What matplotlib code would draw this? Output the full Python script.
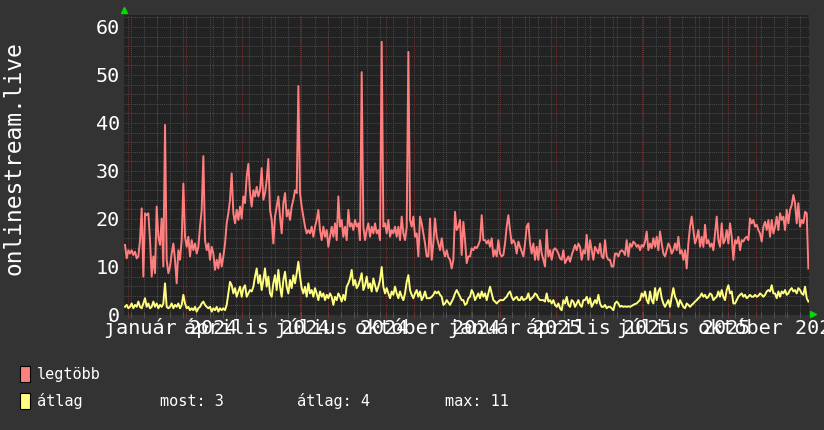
import matplotlib
matplotlib.use('Agg')
import matplotlib.pyplot as plt
import numpy as np
import pandas as pd
from matplotlib.patches import Rectangle, Polygon
from matplotlib.transforms import blended_transform_factory

# ---------------- data ----------------
START = "2023-11-27 21:00"
END = "2025-11-25 10:00"
XMIN = "2023-11-26 19:00"
XMAX = "2025-11-26 02:00"
YMAX = 62.5

legtobb = [
    14.6, 11.8, 13.5, 12.8, 13.5, 12.5, 13.2, 11.8, 12.2, 15.6,
    22.2, 8.0, 21.2, 20.8, 21.2, 15.6, 8.0, 12.2, 8.7, 22.6,
    16.3, 14.6, 20.1, 10.1, 39.6, 11.5, 8.7, 10.1, 12.8, 14.9,
    11.5, 6.6, 13.5, 11.5, 15.6, 27.4, 16.3, 14.2, 16.3, 12.2,
    15.6, 13.5, 14.9, 12.8, 14.2, 18.4, 21.9, 33.1, 15.6, 13.5,
    14.9, 11.5, 14.2, 12.8, 9.4, 11.5, 9.7, 12.8, 10.1, 12.2,
    14.9, 19.1, 21.2, 24.0, 29.5, 21.2, 19.1, 21.9, 19.8, 22.6,
    20.1, 24.7, 23.3, 28.8, 31.5, 25.4, 22.6, 26.0, 24.7, 26.7,
    24.7, 26.0, 30.6, 24.0, 25.4, 28.1, 32.5, 21.9, 19.8, 14.9,
    20.5, 22.6, 24.7, 20.5, 17.0, 23.3, 25.4, 20.5, 21.9, 19.8,
    22.6, 24.0, 26.0, 25.4, 47.7, 25.4, 22.6, 20.5, 18.4, 17.0,
    17.7, 17.0, 18.4, 16.3, 18.4, 19.8, 21.9, 17.7, 15.6, 18.4,
    16.3, 17.7, 14.2, 16.3, 18.4, 16.3, 19.1, 15.6, 24.7, 18.4,
    19.8, 16.3, 18.4, 15.6, 21.9, 18.4, 19.1, 17.7, 19.8, 18.4,
    19.1, 15.6, 50.6, 18.4, 15.6, 17.7, 19.1, 16.3, 18.4, 17.0,
    19.1, 17.0, 17.7, 15.6, 56.9, 18.4, 19.1, 17.0, 19.8, 16.3,
    17.7, 17.0, 18.4, 16.3, 18.4, 15.6, 20.5, 17.0, 15.6, 18.4,
    54.8, 19.8, 18.4, 20.5, 16.3, 17.0, 12.2, 20.5, 19.1, 17.0,
    14.9, 12.2,
    12.2, 20.1, 11.5, 15.0, 20.1, 16.3, 14.9, 13.5, 16.0, 13.5,
    12.2, 13.5, 12.0, 11.5, 9.7, 11.5, 21.5, 17.7, 18.4, 19.8,
    12.5, 19.4, 15.6, 10.8, 12.2, 12.2, 13.9, 13.5, 14.2, 13.9,
    14.6, 15.6, 20.8, 15.6, 15.6, 14.9, 15.6, 14.2, 16.0, 12.2,
    13.5, 12.2, 15.6, 12.8, 12.2, 12.5, 14.9, 18.4, 20.8, 17.7,
    14.9, 15.6, 14.9, 12.8, 15.3, 14.2, 13.2, 12.2, 14.9, 18.4,
    19.1, 14.9, 12.8, 14.9, 11.5, 14.2, 11.5, 15.6, 12.8, 11.5,
    10.1, 17.7, 12.2, 13.5, 11.5, 13.5, 13.9, 13.5, 12.8, 11.8,
    11.5, 13.5, 10.8, 11.5, 12.2, 11.1, 12.5, 13.5, 14.6, 13.5,
    14.9, 14.2, 11.5, 13.5, 12.8, 16.7, 11.5, 15.6, 13.5, 11.5,
    14.2, 13.5, 12.8, 14.9, 12.2, 11.8, 15.6, 12.2, 11.5, 11.5,
    10.1, 10.1, 12.8, 12.8, 12.2, 13.2, 13.5, 13.2, 12.5, 15.6,
    12.2, 14.9, 14.2, 15.3, 14.9, 14.2, 14.6, 13.5, 14.6, 14.2,
    15.3, 17.4, 13.5, 14.9, 13.9, 16.0, 14.2, 16.3, 13.5, 17.4,
    14.9, 12.8, 12.2, 13.5, 14.9, 14.2, 12.8, 13.5, 14.9, 13.5,
    16.3, 12.8, 13.5, 11.5, 13.5, 9.7, 14.9, 18.4, 20.5, 17.7,
    14.9, 16.0, 17.7, 14.2, 16.3, 14.2, 18.8, 14.9, 15.6, 14.2,
    14.9, 13.5, 17.0, 20.5, 15.6, 14.2, 19.1, 14.9, 15.6, 17.7,
    14.9, 19.1, 16.3, 11.5, 15.6, 14.9, 16.3, 13.5, 15.6, 15.3,
    16.0, 16.3, 15.6, 20.1, 19.1, 19.8, 18.4, 18.8, 17.7, 17.0,
    15.3, 18.4, 19.4, 17.7, 19.8, 16.3, 19.8, 17.0, 18.4, 20.5,
    17.7, 21.2, 19.8, 20.5, 17.7, 21.9, 19.1, 21.9, 22.9, 25.0,
    23.3, 19.1, 23.3, 18.4, 19.8, 19.1, 21.5, 21.2, 9.7,
]

atlag = [
    1.7, 2.1, 1.4, 1.7, 2.4, 1.4, 2.1, 1.7, 2.8, 1.7,
    1.4, 2.4, 3.5, 1.7, 2.4, 1.4, 1.7, 2.8, 1.7, 2.4,
    1.4, 2.1, 1.7, 2.4, 6.6, 1.7, 1.4, 1.7, 2.4, 1.4,
    2.1, 1.7, 2.4, 1.4, 2.1, 4.2, 2.4, 1.4, 1.7, 1.0,
    1.4, 1.0, 1.7, 0.7, 1.4, 1.7, 2.4, 2.8, 2.1, 1.7,
    1.4, 1.7, 0.7, 1.4, 1.0, 1.7, 0.7, 1.4, 1.0, 1.4,
    1.0, 2.1, 4.5, 6.9, 6.2, 4.5, 5.6, 3.8, 4.9, 5.9,
    3.8, 5.6, 6.2, 3.8, 4.5, 5.2, 4.9, 5.9, 8.0, 9.7,
    6.6, 8.3, 5.2, 7.3, 9.7, 5.9, 8.0, 4.5, 3.8, 6.6,
    8.3, 5.2, 9.4, 5.9, 3.8, 7.3, 9.0, 5.9, 4.5, 7.3,
    5.6, 8.3, 6.6, 8.7, 11.1, 8.0, 5.6, 4.5, 5.9, 3.8,
    6.6, 4.5, 5.2, 3.8, 5.6, 4.5, 3.1, 4.9, 3.8, 4.5,
    3.1, 4.2, 3.5, 4.5, 3.8, 2.1, 3.8, 3.1, 4.5, 3.8,
    2.8, 4.2, 3.1, 5.9, 6.6, 7.6, 9.4, 6.2, 7.3, 5.6,
    6.2, 7.3, 8.7, 5.2, 6.2, 8.0, 5.6, 6.6, 4.9, 7.6,
    6.2, 4.9, 5.9, 7.3, 10.0, 5.9, 4.5, 5.6, 4.5, 3.5,
    4.9, 4.2, 5.9, 4.5, 3.5, 4.9, 3.8, 3.1, 4.5, 6.9,
    8.3, 5.2, 4.2, 3.5, 4.5, 5.2, 3.8, 4.9, 3.1, 3.8,
    4.9, 3.5,
    3.5, 3.5, 3.8, 4.2, 4.9, 4.5, 4.9, 4.2, 3.8, 2.1,
    2.4, 3.1, 2.6, 2.1, 2.8, 3.5, 4.5, 5.2, 4.5, 3.8,
    3.1, 3.1, 2.1, 2.4, 3.5, 3.8, 5.2, 4.5, 3.1, 3.8,
    4.5, 3.5, 4.9, 3.8, 4.5, 3.1, 4.5, 5.9, 4.5, 3.1,
    2.8, 2.4, 2.8, 3.1, 3.1, 3.1, 3.5, 3.8, 4.5, 4.9,
    3.8, 3.1, 3.5, 3.8, 3.1, 3.1, 3.8, 3.1, 3.3, 3.5,
    4.5, 3.1, 3.5, 3.8, 4.5, 4.2, 3.5, 3.1, 3.1, 3.1,
    2.8, 4.5, 2.8, 3.1, 2.4, 3.1, 2.1, 1.7, 2.4, 1.4,
    1.0, 3.1, 2.4, 3.8, 2.1, 1.7, 3.1, 2.8, 1.7, 2.4,
    3.1, 2.1, 1.7, 3.1, 3.1, 3.8, 2.4, 3.5, 1.7, 2.4,
    3.1, 2.4, 4.2, 2.4, 1.7, 1.7, 2.1, 1.4, 1.7, 1.7,
    1.4, 1.0, 2.4, 2.8, 2.4, 1.7, 1.9, 1.7, 1.8, 1.7,
    1.8, 1.7, 1.9, 2.1, 2.3, 2.4, 2.8, 3.1, 4.5, 3.8,
    4.9, 3.1, 2.4, 4.9, 3.1, 2.4, 5.6, 3.1, 4.9, 5.6,
    3.5, 2.4, 1.7, 2.4, 3.1, 1.7, 3.8, 5.6, 3.8, 3.1,
    1.7, 3.1, 2.4, 1.7, 1.4, 2.4, 2.1, 1.7, 2.1, 2.4,
    2.8, 3.1, 3.5, 3.8, 4.5, 3.8, 4.2, 3.5, 3.8, 4.5,
    4.2, 3.1, 3.5, 3.8, 4.9, 3.8, 5.2, 3.8, 3.1, 5.2,
    6.2, 4.5, 4.9, 2.4, 2.4, 3.1, 3.8, 4.2, 4.5, 3.8,
    4.2, 3.5, 3.8, 4.2, 3.8, 3.8, 4.2, 3.8, 4.0, 4.5,
    4.2, 3.8, 4.2, 4.9, 5.2, 4.9, 6.2, 4.5, 4.5, 3.5,
    4.9, 3.8, 4.9, 4.5, 5.2, 4.2, 4.5, 5.2, 5.6, 4.9,
    5.2, 4.5, 5.6, 5.2, 4.5, 4.2, 5.9, 3.5, 2.8,
]

month_labels = ["január", "április", "július", "október",
                "január", "április", "július", "október"]
label_months = ["2024-01-01", "2024-04-01", "2024-07-01", "2024-10-01",
                "2025-01-01", "2025-04-01", "2025-07-01", "2025-10-01"]
y_ticks = [0, 10, 20, 30, 40, 50, 60]

legend_names = ["legtöbb", "átlag"]
stat_texts = ["most: 3", "átlag: 4", "max: 11"]
series_colors = ["#ff7f7f", "#ffff7f"]

# ---------------- figure ----------------
W, H = 824, 430
BG = "#333333"
PLOTBG = "#222222"
MINOR = "#4a4a4a"
MAJOR = "#6a3434"
TXT = "#ffffff"
MONO = "DejaVu Sans Mono"

fig = plt.figure(figsize=(W / 100, H / 100), dpi=100, facecolor=BG)
L, R, T, B = 124, 809, 15, 315
ax = fig.add_axes([L / W, 1 - B / H, (R - L) / W, (B - T) / H])
ax.set_facecolor(PLOTBG)
for s in ax.spines.values():
    s.set_visible(False)

xmin, xmax = pd.Timestamp(XMIN), pd.Timestamp(XMAX)
ax.set_xlim(xmin, xmax)
ax.set_ylim(0, YMAX)

# grid
for v in np.arange(0, YMAX, 2):
    if v % 10 != 0:
        ax.axhline(v, color=MINOR, lw=0.75, ls=(0, (1, 1)), zorder=1)
for v in y_ticks:
    if v > 0:
        ax.axhline(v, color=MAJOR, lw=0.75, ls=(0, (1, 1)), zorder=1.1)
minor_days = pd.date_range("2023-12-04", XMAX, freq="14D")
for d in minor_days:
    ax.axvline(d, color=MINOR, lw=0.75, ls=(0, (1, 1)), zorder=1)
major_days = pd.date_range("2023-12-01", XMAX, freq="MS")
for d in major_days:
    ax.axvline(d, color=MAJOR, lw=0.75, ls=(0, (1, 1)), zorder=1.1)

# axis ticks along bottom
ax.set_xticks(major_days)
ax.set_xticks(minor_days, minor=True)
ax.tick_params(axis="x", which="major", length=4, color=MAJOR, direction="inout",
               labelbottom=False)
ax.tick_params(axis="x", which="minor", length=4, color="#5a5a5a", direction="inout",
               labelbottom=False)
ax.set_yticks(y_ticks)
ax.set_yticklabels([str(v) for v in y_ticks], fontfamily=MONO, fontsize=14.5, color=TXT)
ax.tick_params(axis="y", length=0, pad=3)

# series
dates = pd.date_range(START, END, periods=len(legtobb))
ax.plot(dates, legtobb, color=series_colors[0], lw=1.4, zorder=3)
dates2 = pd.date_range(START, END, periods=len(atlag))
ax.plot(dates2, atlag, color=series_colors[1], lw=1.4, zorder=4)

# x labels (centred on the middle of the labelled month)
tr = blended_transform_factory(ax.transData, fig.transFigure)
for name, m in zip(month_labels, label_months):
    ts = pd.Timestamp(m)
    centre = ts + pd.Timedelta(days=15)
    ax.text(centre, 1 - 328 / H, f"{name} {ts.year}", transform=tr, ha="center",
            va="center", fontfamily=MONO, fontsize=14.5, color=TXT, clip_on=False)

# y axis title
fig.text(14 / W, 1 - 158 / H, "onlinestream.live", rotation=90, ha="center",
         va="center", fontfamily=MONO, fontsize=16.5, color=TXT)

# arrows
def px(x, y):
    return (x / W, 1 - y / H)

fig.patches.append(Polygon([px(121.5, 13.5), px(127.5, 13.5), px(124.5, 7.5)],
                           closed=True, transform=fig.transFigure, color="#00dd00"))
fig.patches.append(Polygon([px(810.5, 311.5), px(810.5, 317.5), px(816.5, 314.5)],
                           closed=True, transform=fig.transFigure, color="#00dd00"))

# legend
for i, (name, col) in enumerate(zip(legend_names, series_colors)):
    yc = 374 + i * 27
    fig.patches.append(Rectangle(px(20, yc + 8), 10 / W, 16 / H, transform=fig.transFigure,
                                 facecolor=col, edgecolor="#000000", lw=0.8))
    fig.text(37 / W, 1 - yc / H, name, ha="left", va="center", fontfamily=MONO,
             fontsize=11, color=TXT)
for s, xpos in zip(stat_texts, [160, 297, 445]):
    fig.text(xpos / W, 1 - 401 / H, s, ha="left", va="center", fontfamily=MONO,
             fontsize=11, color=TXT)

fig.savefig("out.png", dpi=100, facecolor=BG)
